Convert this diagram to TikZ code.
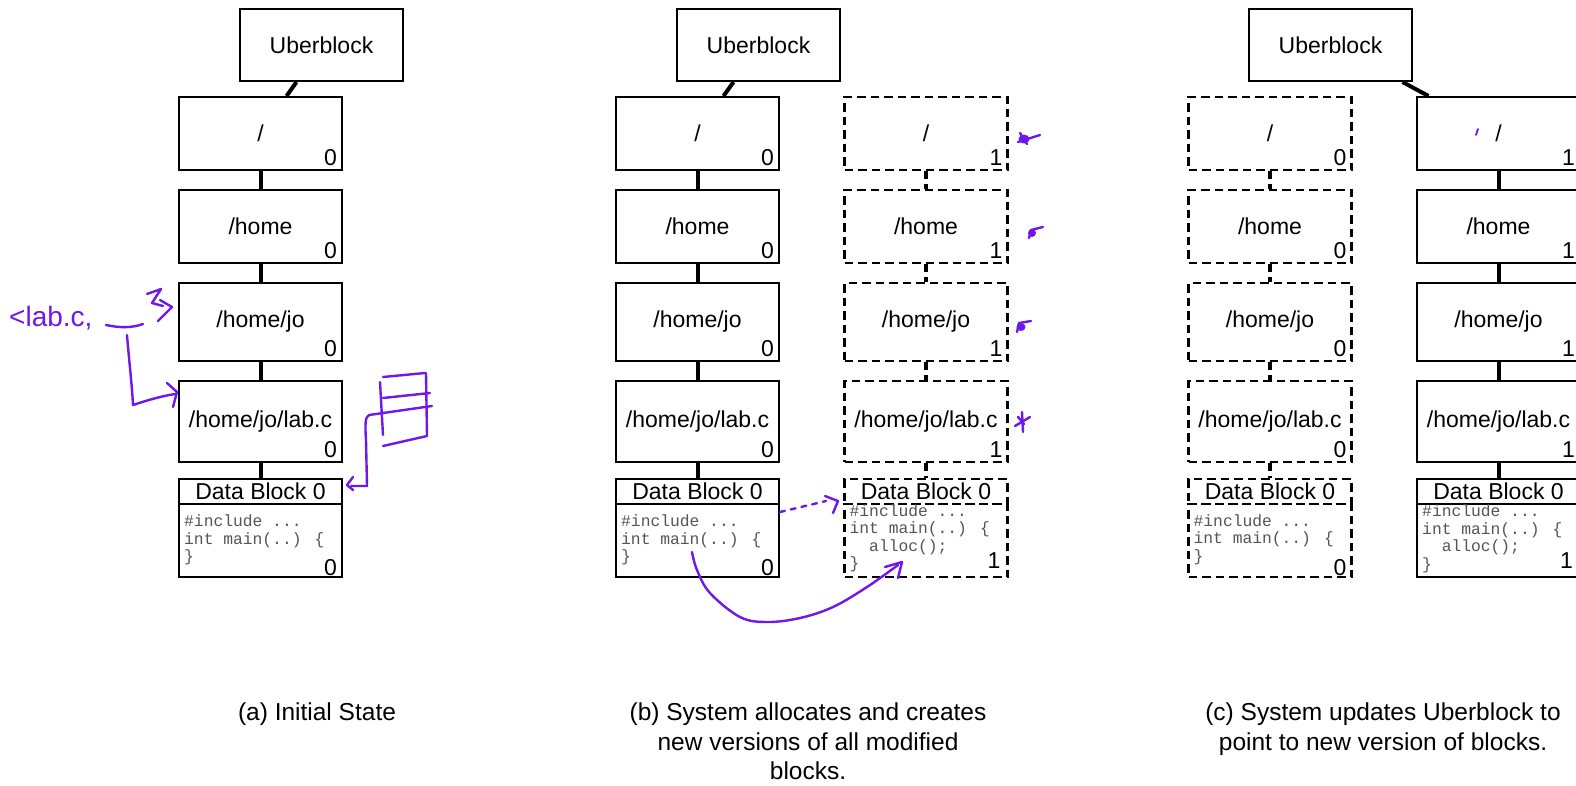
\documentclass[tikz,border=0pt]{standalone}
\usepackage{fontspec}
\setmainfont{Liberation Sans}
\newfontfamily\codefont{Liberation Mono}
\usetikzlibrary{calc}

\definecolor{ink}{RGB}{112,24,235}
\definecolor{codegray}{RGB}{85,85,85}

\tikzset{
  blk/.style={draw, line width=2pt, minimum width=163pt, inner sep=0pt,
    font=\fontsize{23}{27}\selectfont},
  dblk/.style={blk, line width=2.1pt, dash pattern=on 8.5pt off 5pt},
  link/.style={line width=4pt},
  dlink/.style={line width=4pt, dash pattern=on 8pt off 5pt},
  ver/.style={anchor=base east, inner sep=0pt, font=\fontsize{23}{27}\selectfont},
  code/.style={anchor=north west, inner sep=0pt, align=left, text=codegray,
    font=\codefont\fontsize{16.3}{17.5}\selectfont},
  pen/.style={draw=ink, line width=2.4pt, line cap=round, line join=round},
  blob/.style={fill=ink},
  hand/.style={anchor=base west, inner sep=0pt, text=ink,
    font=\fontsize{28}{32}\selectfont},
  caption/.style={anchor=north, inner sep=0pt, align=center,
    font=\fontsize{24.5}{29.4}\selectfont}
}

% one column of blocks: prefix, centre x, box style, connector style, version
\newcommand\fscolumn[5]{%
  \node[#3, minimum height=73pt] (#1r) at (#2,133.5) {/};
  \node[#3, minimum height=73pt] (#1h) at (#2,226.5) {/home};
  \node[#3, minimum height=78pt] (#1j) at (#2,322) {/home/jo};
  \node[#3, minimum height=81pt] (#1l) at (#2,421.5) {/home/jo/lab.c};
  \node[#3, minimum height=25pt] (#1d) at (#2,491.5) {Data Block 0};
  \node[#3, minimum height=73pt] (#1b) at (#2,540.5) {};
  \node[ver] at ($(#1r.south east)+(-6,-6)$) {#5};
  \node[ver] at ($(#1h.south east)+(-6,-6)$) {#5};
  \node[ver] at ($(#1j.south east)+(-6,-6)$) {#5};
  \node[ver] at ($(#1l.south east)+(-6,-6)$) {#5};
  \draw[#4] (#1r.south) -- (#1h.north);
  \draw[#4] (#1h.south) -- (#1j.north);
  \draw[#4] (#1j.south) -- (#1l.north);
  \draw[#4] (#1l.south) -- (#1d.north);
}

% original file contents
\newcommand\oldcode[1]{%
  \node[code] at ($(#1b.north west)+(6,11.5)$)
    {\#include ...\\int main(..) \{\\\}};
  \node[ver] at ($(#1b.south east)+(-6,-3)$) {0};
}
% modified file contents
\newcommand\newcode[1]{%
  \node[code] at ($(#1b.north west)+(6,1.5)$)
    {\#include ...\\int main(..) \{\\\phantom{xx}alloc();\\\}};
  \node[ver] at ($(#1b.south east)+(-8,-10)$) {1};
}

\begin{document}
\begin{tikzpicture}[x=1pt, y=-1pt]
\useasboundingbox (0,0) rectangle (1576,785);
\fill[white] (0,0) rectangle (1576,785);
\clip (0,0) rectangle (1576,785);

% ---------- (a) initial state ----------
\node[blk, minimum height=72pt] (ua) at (321.5,45) {Uberblock};
\fscolumn{a}{260.5}{blk}{link}{0}
\oldcode{a}
\draw[link] ($(ua.south)+(-25,0)$) -- ($(ar.north)+(26,0)$);

% ---------- (b) new versions written ----------
\node[blk, minimum height=72pt] (ub) at (758.5,45) {Uberblock};
\fscolumn{b}{697.5}{blk}{link}{0}
\oldcode{b}
\draw[link] ($(ub.south)+(-25,0)$) -- ($(br.north)+(26,0)$);
\fscolumn{n}{926}{dblk}{dlink}{1}
\newcode{n}

% ---------- (c) uberblock switched ----------
\node[blk, minimum height=72pt] (uc) at (1330.5,45) {Uberblock};
\fscolumn{c}{1270}{dblk}{dlink}{0}
\oldcode{c}
\fscolumn{m}{1498.5}{blk}{link}{1}
\newcode{m}
\draw[link] ($(uc.south)+(72,0)$) -- ($(mr.north)+(-70,0)$);

% ---------- captions ----------
\node[caption] (ca) at (317,703) {(a) Initial State};
\node[caption] (cb) at (808,703) {(b) System allocates and creates\\new versions of all modified\\blocks.};
\node[caption] (cc) at (1383,703) {(c) System updates Uberblock to\\point to new version of blocks.};

% ---------- handwritten notes ----------
\node[hand] (tuple) at (9,326) {<lab.c,};
\draw[pen] (106,325) .. controls (120,328) and (132,328) .. (143,324);
\draw[pen] (147,294) -- (161,289) -- (152,303) -- (163,306);
\draw[pen] (160,300) -- (172,307) -- (158,321);
\draw[pen] (127,335) .. controls (129,360) and (132,385) .. (133,405)
  .. controls (148,400) and (162,396) .. (175,394);
\draw[pen] (167,383) -- (177,392) -- (173,407);

% table sketch with pointer to the data block
\draw[pen] (383,377) -- (425,373);
\draw[pen] (380,382) -- (383,435);
\draw[pen] (426,373) -- (427,436);
\draw[pen] (383,398) -- (430,393);
\draw[pen] (383,413) -- (432,406);
\draw[pen] (383,446) -- (427,436);
\draw[pen] (383,413) -- (369,415) .. controls (365,417) and (365,425) .. (366,440)
  -- (367,486) -- (351,486);
\draw[pen] (353,477) -- (347,485) -- (353,490);

% copy arrows in (b)
\draw[pen, dash pattern=on 5pt off 6pt] (bb.east |- 0,512) -- (826,501);
\draw[pen] (825,496) -- (838,501) -- (833,513);
\draw[pen] plot[smooth, tension=0.6] coordinates
  {(692,552) (697,570) (710,593) (740,617) (767,622) (800,618) (833,607) (867,587) (898,565)};
\draw[pen] (885,567) -- (902,562) -- (898,578);

% marks beside the new blocks
\fill[blob] (1024,139) ellipse [x radius=5.5pt, y radius=4.5pt];
\draw[pen] (1020,133) -- (1027,144);
\draw[pen] (1018,142) -- (1040,135);
\fill[blob] (1032,233) ellipse [x radius=4pt, y radius=4pt];
\draw[pen] (1029,238) -- (1031,230) -- (1043,227);
\fill[blob] (1021,327) ellipse [x radius=4.5pt, y radius=4pt];
\draw[pen] (1017,332) -- (1019,323) -- (1031,321);
\draw[pen] (1022,412) -- (1023,432);
\draw[pen] (1015,426) -- (1030,417);
\draw[pen] (1018,417) -- (1024,424);
\draw[ink, line width=1.8pt, line cap=round] (1478,129) -- (1476,135);
\end{tikzpicture}
\end{document}
